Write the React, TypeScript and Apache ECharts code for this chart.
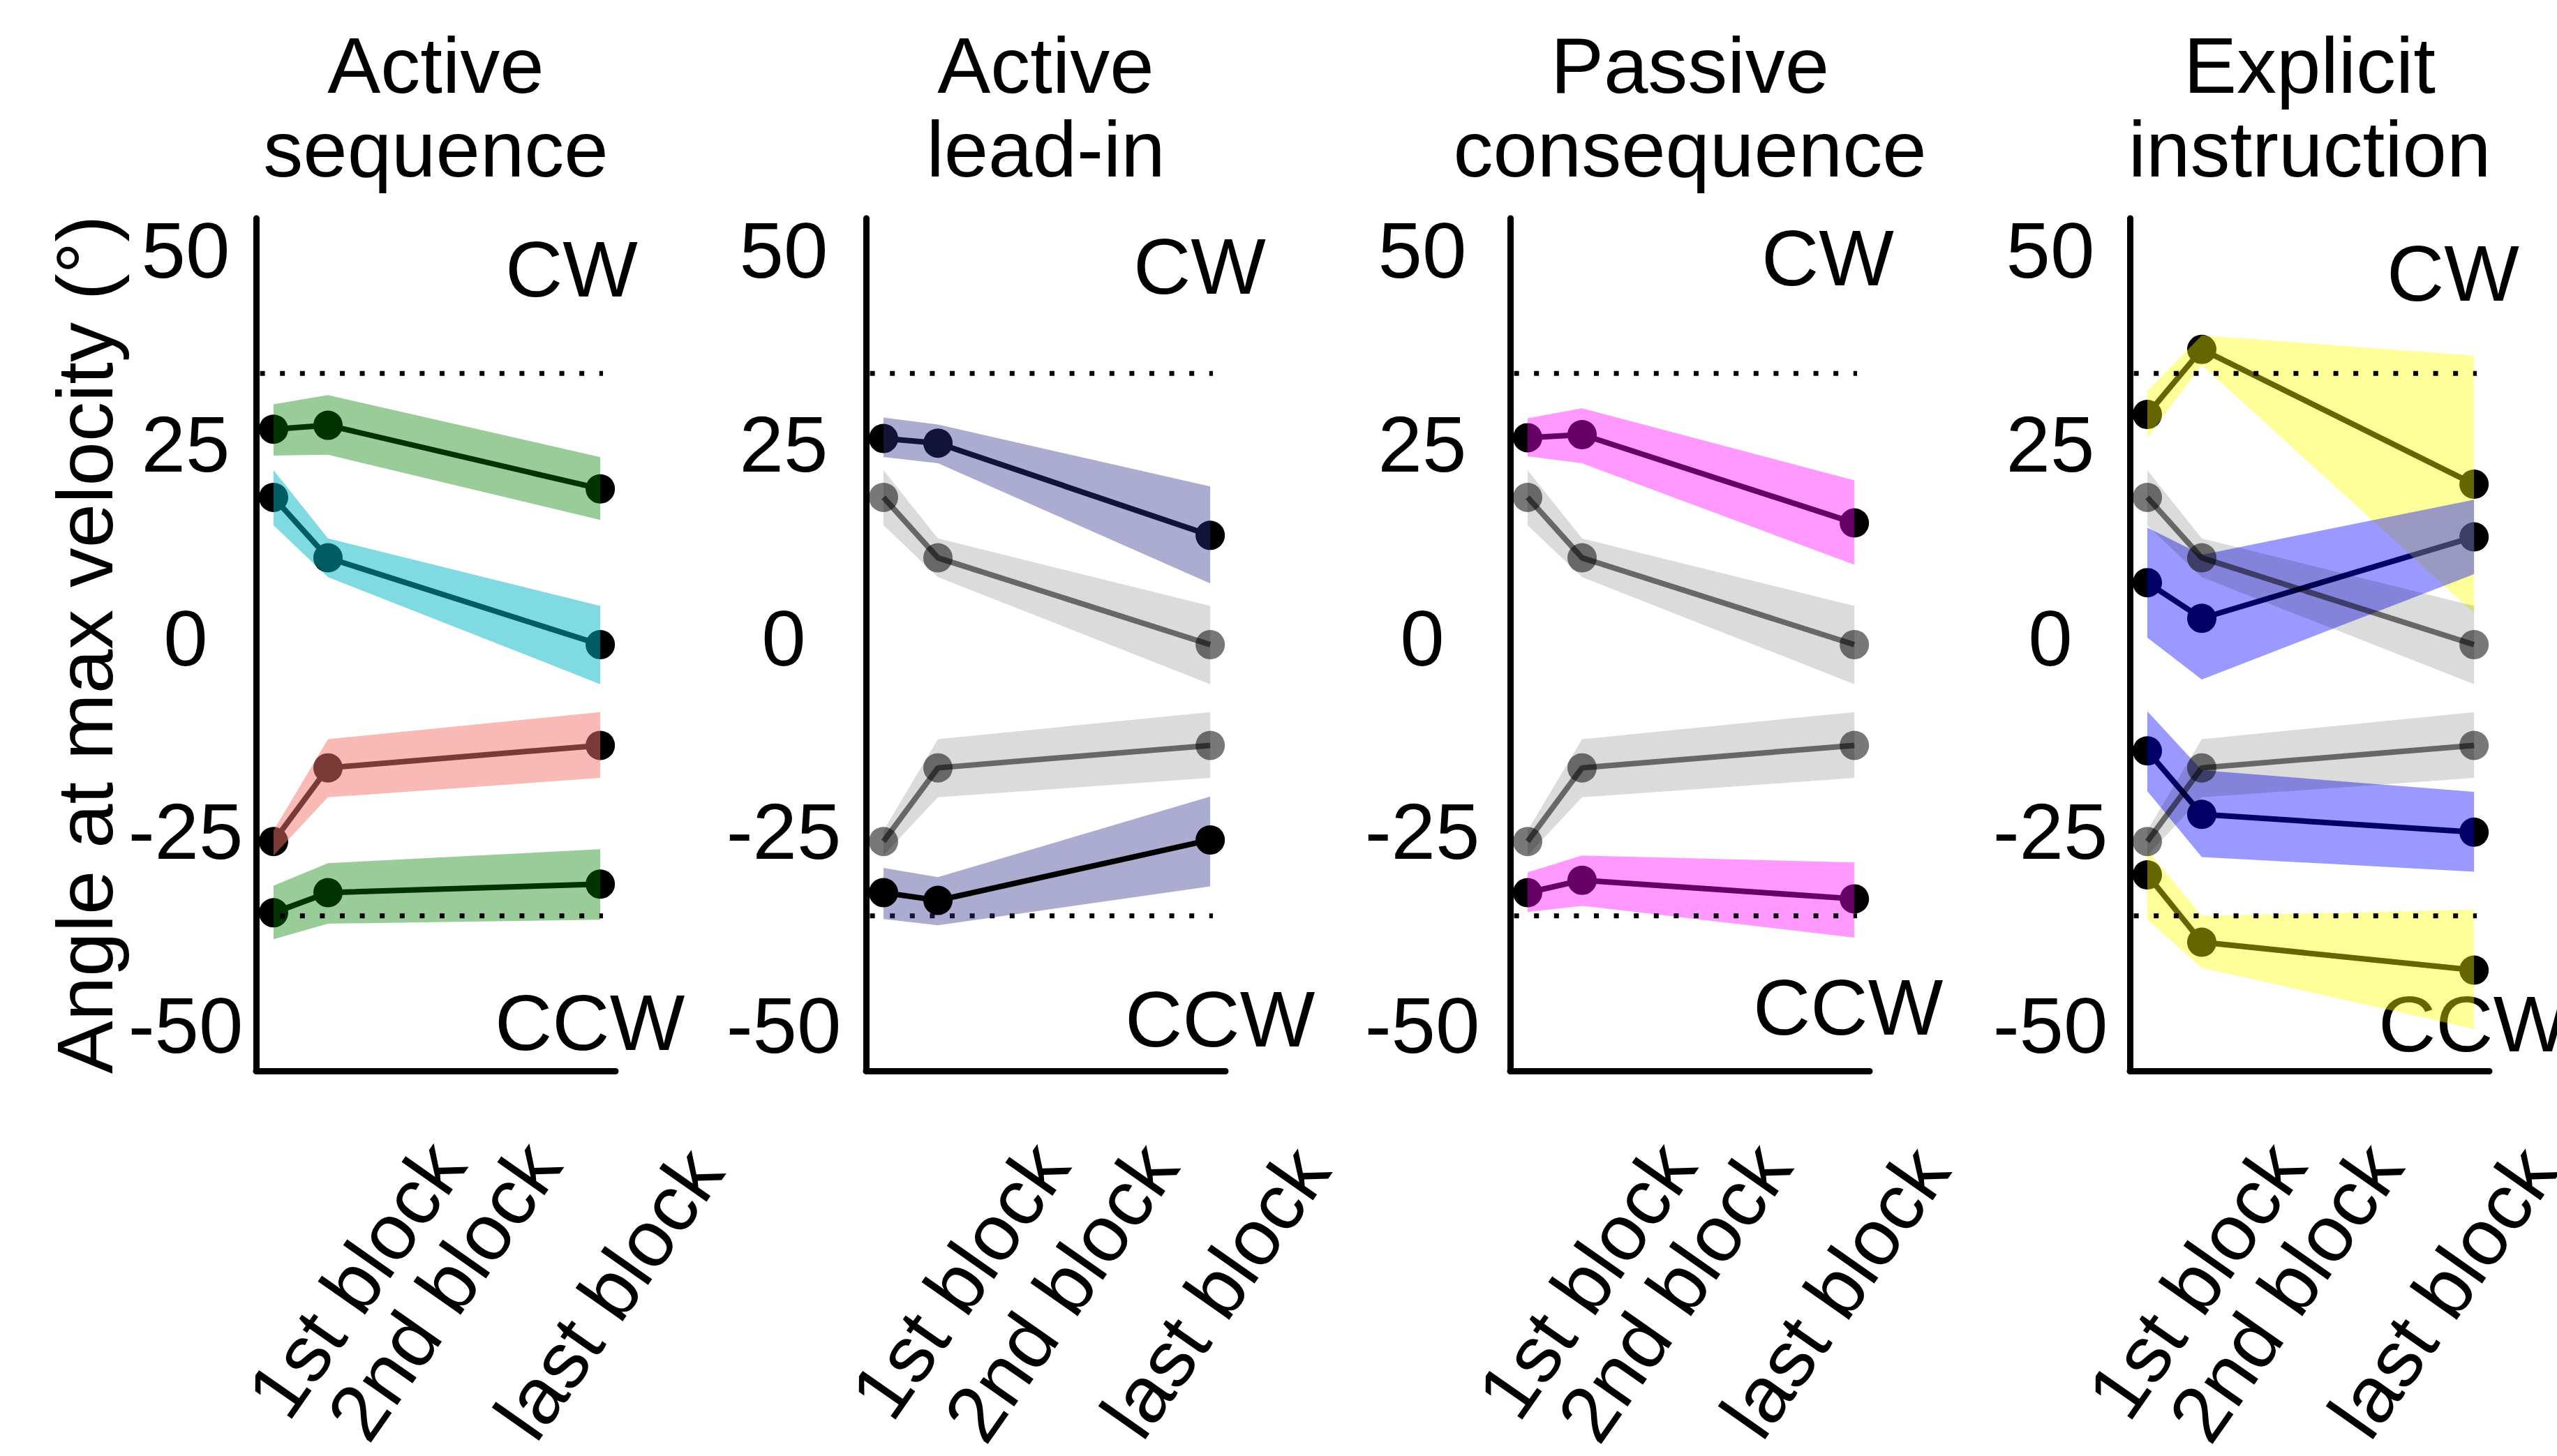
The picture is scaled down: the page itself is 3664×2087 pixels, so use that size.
import React, { useEffect, useRef } from "react";
import * as echarts from "echarts";

// ---------------- data ----------------
const BLOCK_X = [1, 2, 7];
const X_TICK_LABELS = ["1st block", "2nd block", "last block"];
const Y_TICKS = [-50, -25, 0, 25, 50];
const BOUNDARIES = [35, -35];
const TITLES = [
  ["Active", "sequence"],
  ["Active", "lead-in"],
  ["Passive", "consequence"],
  ["Explicit", "instruction"],
];
const Y_TITLE = "Angle at max velocity (°)";
const CW_TEXT = "CW";
const CCW_TEXT = "CCW";

// Active sequence (reference conditions)
const seqCWMean = [27.8, 28.3, 20.1];
const seqCWLo = [24.4, 24.5, 16.1];
const seqCWHi = [31.0, 32.2, 24.2];
const seqCCWMean = [-34.6, -32.0, -30.9];
const seqCCWLo = [-38.0, -36.0, -35.5];
const seqCCWHi = [-31.1, -28.2, -26.4];
const refUpMean = [19.0, 11.2, 0.0];
const refUpLo = [15.4, 8.7, -5.1];
const refUpHi = [22.5, 13.7, 5.0];
const refLowMean = [-25.4, -15.9, -13.0];
const refLowLo = [-27.2, -19.7, -17.2];
const refLowHi = [-24.0, -12.2, -8.7];
// Active lead-in
const leadCWMean = [26.6, 26.0, 14.1];
const leadCWLo = [24.2, 23.4, 7.9];
const leadCWHi = [29.3, 28.4, 20.4];
const leadCCWMean = [-32.0, -33.0, -25.2];
const leadCCWLo = [-35.4, -36.2, -31.2];
const leadCCWHi = [-28.8, -30.0, -19.6];
// Passive consequence
const passCWMean = [26.7, 27.1, 15.7];
const passCWLo = [24.3, 23.4, 10.3];
const passCWHi = [29.2, 30.5, 21.2];
const passCCWMean = [-32.0, -30.4, -32.8];
const passCCWLo = [-34.5, -33.7, -37.8];
const passCCWHi = [-29.4, -27.2, -28.1];
// Explicit instruction
const explYCWMean = [29.7, 38.1, 20.7];
const explYCWLo = [26.7, 36.1, 4.1];
const explYCWHi = [32.7, 39.9, 37.3];
const explBCWMean = [8.0, 3.4, 13.9];
const explBCWLo = [0.9, -4.5, 9.1];
const explBCWHi = [15.1, 11.6, 18.7];
const explBCCWMean = [-13.7, -21.9, -24.2];
const explBCCWLo = [-18.9, -27.4, -29.3];
const explBCCWHi = [-8.6, -16.2, -19.0];
const explYCCWMean = [-29.7, -38.4, -42.0];
const explYCCWLo = [-35.5, -41.7, -49.6];
const explYCCWHi = [-26.5, -35.0, -34.2];

// ---------------- styling / layout ----------------
const FONT = '"Liberation Sans", Arial, Helvetica, sans-serif';
const FS = 114;
const GRID_LEFT = [367, 1241, 2164, 3052];
const GRID_TOP = 313;
const GRID_W = 515;
const GRID_H = 1222;
const Y_LABEL_MARGIN = [101, 118, 126, 114];
const CW_POS = [[724, 385.5], [1624, 381.5], [2524, 369], [3420, 391.5]];
const CCW_POS = [[709, 1465], [1612, 1460.5], [2512, 1443.5], [3408, 1467.5]];
const XLAB_POS = [
  [[510, 1834], [636, 1850], [872, 1854]],
  [[1375, 1835], [1520, 1852], [1741, 1852]],
  [[2273, 1835], [2399, 1852], [2629, 1852]],
  [[3147, 1835], [3275, 1852], [3500, 1852]],
];

const GREEN = "rgba(0,128,0,0.4)";
const CYAN = "rgba(0,181,196,0.5)";
const RED = "rgba(244,118,108,0.5)";
const NAVY = "rgba(45,48,135,0.4)";
const MAGENTA = "rgba(255,0,255,0.4)";
const YELLOW = "rgba(255,255,0,0.4)";
const BLUE = "rgba(0,0,255,0.4)";
const GRAY_BAND = "rgba(0,0,0,0.14)";
const GRAY_LINE = "rgba(0,0,0,0.53)";

type Cond = { mean: number[]; lo: number[]; hi: number[]; color: string; kind: "tint" | "under" | "gray" };

const C = (mean: number[], lo: number[], hi: number[], color: string, kind: Cond["kind"]): Cond => ({ mean, lo, hi, color, kind });

const PANELS: { conds: Cond[]; dottedZ: number }[] = [
  {
    dottedZ: 7,
    conds: [
      C(seqCWMean, seqCWLo, seqCWHi, GREEN, "tint"),
      C(refUpMean, refUpLo, refUpHi, CYAN, "tint"),
      C(refLowMean, refLowLo, refLowHi, RED, "tint"),
      C(seqCCWMean, seqCCWLo, seqCCWHi, GREEN, "tint"),
    ],
  },
  {
    dottedZ: 1,
    conds: [
      C(refUpMean, refUpLo, refUpHi, GRAY_BAND, "gray"),
      C(refLowMean, refLowLo, refLowHi, GRAY_BAND, "gray"),
      C(leadCWMean, leadCWLo, leadCWHi, NAVY, "tint"),
      C(leadCCWMean, leadCCWLo, leadCCWHi, NAVY, "under"),
    ],
  },
  {
    dottedZ: 7,
    conds: [
      C(refUpMean, refUpLo, refUpHi, GRAY_BAND, "gray"),
      C(refLowMean, refLowLo, refLowHi, GRAY_BAND, "gray"),
      C(passCWMean, passCWLo, passCWHi, MAGENTA, "tint"),
      C(passCCWMean, passCCWLo, passCCWHi, MAGENTA, "tint"),
    ],
  },
  {
    dottedZ: 7,
    conds: [
      C(explYCWMean, explYCWLo, explYCWHi, YELLOW, "tint"),
      C(explBCWMean, explBCWLo, explBCWHi, BLUE, "tint"),
      C(explBCCWMean, explBCCWLo, explBCCWHi, BLUE, "tint"),
      C(explYCCWMean, explYCCWLo, explYCCWHi, YELLOW, "tint"),
      C(refUpMean, refUpLo, refUpHi, GRAY_BAND, "gray"),
      C(refLowMean, refLowLo, refLowHi, GRAY_BAND, "gray"),
    ],
  },
];

function bandSeries(g: number, c: Cond, z: number) {
  return {
    type: "custom",
    xAxisIndex: g,
    yAxisIndex: g,
    z,
    silent: true,
    data: BLOCK_X.map((x, i) => [x, c.lo[i], c.hi[i]]),
    encode: { x: 0, y: [1, 2] },
    renderItem: (params: any, api: any) => {
      if (params.dataIndex !== 0) return null;
      const top = BLOCK_X.map((x, i) => api.coord([x, c.hi[i]]));
      const bot = BLOCK_X.map((x, i) => api.coord([x, c.lo[i]])).reverse();
      return {
        type: "polygon",
        shape: { points: top.concat(bot) },
        style: { fill: c.color, stroke: null },
      };
    },
  };
}

function lineSeries(g: number, c: Cond, color: string, z: number) {
  return {
    type: "line",
    xAxisIndex: g,
    yAxisIndex: g,
    z,
    silent: true,
    data: BLOCK_X.map((x, i) => [x, c.mean[i]]),
    symbol: "circle",
    symbolSize: 42,
    showSymbol: true,
    lineStyle: { color, width: 8 },
    itemStyle: { color, borderWidth: 0 },
    emphasis: { disabled: true },
  };
}

function buildOption() {
  const grid: any[] = [];
  const xAxis: any[] = [];
  const yAxis: any[] = [];
  const series: any[] = [];
  const graphic: any[] = [];

  PANELS.forEach((panel, g) => {
    grid.push({ left: GRID_LEFT[g], top: GRID_TOP, width: GRID_W, height: GRID_H, containLabel: false });
    xAxis.push({
      type: "value",
      gridIndex: g,
      min: 0.68,
      max: 7.28,
      axisLine: { show: true, onZero: false, lineStyle: { color: "#000", width: 9 } },
      axisTick: { show: false },
      axisLabel: { show: false },
      splitLine: { show: false },
    });
    yAxis.push({
      type: "value",
      gridIndex: g,
      min: -55,
      max: 55,
      axisLine: { show: true, onZero: false, lineStyle: { color: "#000", width: 9 } },
      axisTick: { show: false },
      splitLine: { show: false },
      axisLabel: {
        show: true,
        customValues: Y_TICKS,
        margin: Y_LABEL_MARGIN[g],
        align: "center",
        verticalAlign: "bottom",
        lineHeight: 20,
        color: "#000",
        fontSize: FS,
        fontFamily: FONT,
      },
    });

    BOUNDARIES.forEach((b) => {
      series.push({
        type: "line",
        xAxisIndex: g,
        yAxisIndex: g,
        z: panel.dottedZ,
        silent: true,
        symbol: "none",
        data: [[0.68, b], [7.05, b]],
        lineStyle: { color: "#000", width: 7, type: [7, 21.6], dashOffset: 22.6, cap: "butt" },
      });
    });

    panel.conds.forEach((c) => {
      if (c.kind === "gray") {
        series.push(bandSeries(g, c, 5));
        series.push(lineSeries(g, c, GRAY_LINE, 6));
      } else {
        series.push(lineSeries(g, c, "#000", 3));
        series.push(bandSeries(g, c, c.kind === "under" ? 2 : 4));
      }
    });

    const cx = GRID_LEFT[g] + GRID_W / 2;
    TITLES[g].forEach((t, k) => {
      graphic.push({
        type: "text",
        x: cx,
        y: k === 0 ? 93.5 : 213.5,
        silent: true,
        style: { text: t, fill: "#000", font: `${FS}px ${FONT}`, align: "center", verticalAlign: "middle", textAlign: "center", textVerticalAlign: "middle" },
      });
    });
    graphic.push({
      type: "text",
      x: CW_POS[g][0],
      y: CW_POS[g][1],
      silent: true,
      style: { text: CW_TEXT, fill: "#000", font: `${FS}px ${FONT}`, align: "left", verticalAlign: "middle", textAlign: "left", textVerticalAlign: "middle" },
    });
    graphic.push({
      type: "text",
      x: CCW_POS[g][0],
      y: CCW_POS[g][1],
      silent: true,
      style: { text: CCW_TEXT, fill: "#000", font: `${FS}px ${FONT}`, align: "left", verticalAlign: "middle", textAlign: "left", textVerticalAlign: "middle" },
    });
    X_TICK_LABELS.forEach((lab, k) => {
      graphic.push({
        type: "text",
        x: XLAB_POS[g][k][0],
        y: XLAB_POS[g][k][1],
        rotation: (55 * Math.PI) / 180,
        silent: true,
        style: { text: lab, fill: "#000", font: `${FS}px ${FONT}`, align: "center", verticalAlign: "middle", textAlign: "center", textVerticalAlign: "middle" },
      });
    });
  });

  graphic.push({
    type: "text",
    x: 121.5,
    y: 924,
    rotation: Math.PI / 2,
    silent: true,
    style: { text: Y_TITLE, fill: "#000", font: `${FS}px ${FONT}`, align: "center", verticalAlign: "middle", textAlign: "center", textVerticalAlign: "middle" },
  });

  return {
    animation: false,
    backgroundColor: "#ffffff",
    grid,
    xAxis,
    yAxis,
    series,
    graphic,
  };
}

export default function App() {
  const ref = useRef<HTMLDivElement>(null);
  useEffect(() => {
    if (!ref.current) return;
    const chart = echarts.init(ref.current, undefined, { renderer: "svg" });
    chart.setOption(buildOption() as any);
    return () => chart.dispose();
  }, []);
  return (
    <div
      ref={ref}
      style={{ position: "fixed", left: 0, top: 0, width: 3664, height: 2087, background: "#fff" }}
    />
  );
}
